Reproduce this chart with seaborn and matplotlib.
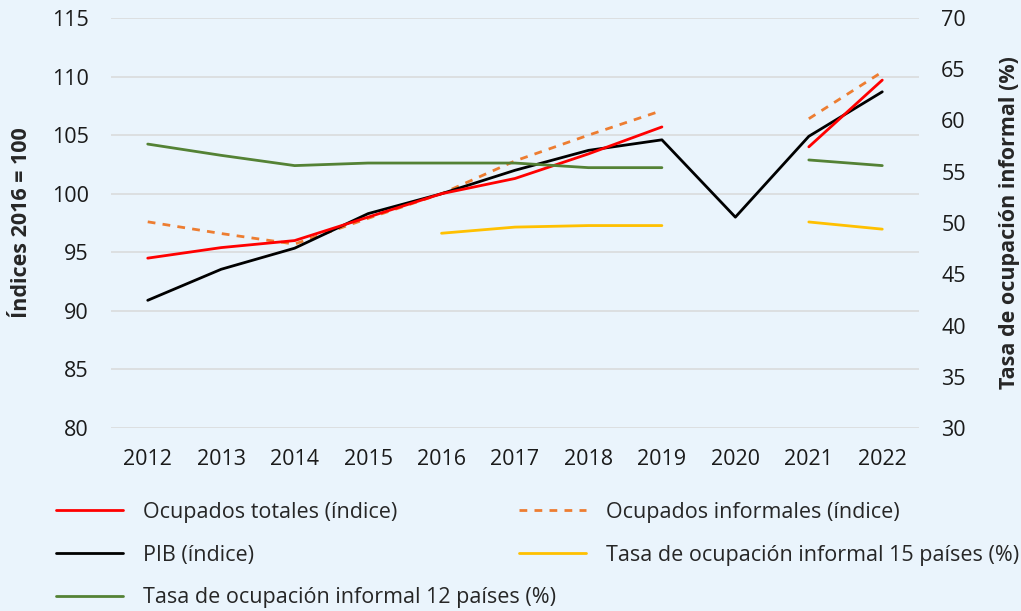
import numpy as np
import pandas as pd
import matplotlib
matplotlib.use("Agg")
import matplotlib.pyplot as plt
import seaborn as sns

years = [2012, 2013, 2014, 2015, 2016, 2017, 2018, 2019, 2020, 2021, 2022]
nan = np.nan
ocupados_totales = [94.5, 95.4, 96.0, 98.0, 100.0, 101.3, 103.4, 105.7, nan, 104.0, 109.7]
ocupados_informales = [97.6, 96.6, 95.7, 97.9, 100.0, 102.8, 105.0, 107.1, nan, 106.4, 110.4]
pib = [90.9, 93.55, 95.35, 98.3, 100.0, 102.0, 103.7, 104.6, 98.0, 104.9, 108.7]
tasa_15 = [nan, nan, nan, nan, 49.0, 49.6, 49.75, 49.75, nan, 50.1, 49.4]
tasa_12 = [57.7, 56.6, 55.6, 55.85, 55.85, 55.85, 55.4, 55.4, nan, 56.15, 55.6]

left_ticks = [80, 85, 90, 95, 100, 105, 110, 115]
right_ticks = [30, 35, 40, 45, 50, 55, 60, 65, 70]

labels = {
    "tot": "Ocupados totales (índice)",
    "inf": "Ocupados informales (índice)",
    "pib": "PIB (índice)",
    "t15": "Tasa de ocupación informal 15 países (%)",
    "t12": "Tasa de ocupación informal 12 países (%)",
}

sns.set_theme(style="white")
plt.rcParams["font.family"] = ["Open Sans", "DejaVu Sans"]

BG = "#EAF4FC"
FS = 15.5

fig = plt.figure(figsize=(10.21, 6.11), dpi=100, facecolor=BG)
ax = fig.add_axes([111 / 1021, 1 - 428 / 611, 808 / 1021, 410 / 611])
ax.set_facecolor(BG)
ax2 = ax.twinx()
ax2.patch.set_visible(False)


def segments(vals):
    segs, cur = [], []
    for y, v in zip(years, vals):
        if np.isnan(v):
            if cur:
                segs.append(cur)
            cur = []
        else:
            cur.append((y, v))
    if cur:
        segs.append(cur)
    return segs


def draw(axis, vals, color, lw=2.0, dashes=None, label=None):
    handle = None
    for seg in segments(vals):
        df = pd.DataFrame(seg, columns=["year", "value"])
        sns.lineplot(data=df, x="year", y="value", ax=axis, legend=False,
                     color=color, linewidth=lw)
        line = axis.get_lines()[-1]
        if dashes is not None:
            line.set_dashes(dashes)
        handle = line
    handle.set_label(label)
    return handle


h_t12 = draw(ax2, tasa_12, "#548235", label=labels["t12"])
h_t15 = draw(ax2, tasa_15, "#FFC000", label=labels["t15"])
h_inf = draw(ax, ocupados_informales, "#ED7D31", dashes=(2.8, 2.6), label=labels["inf"])
h_pib = draw(ax, pib, "black", label=labels["pib"])
h_tot = draw(ax, ocupados_totales, "#FF0000", label=labels["tot"])

ax.set_xlim(2011.5, 2022.5)
ax.set_ylim(80, 115)
ax2.set_ylim(30, 70)
ax.set_xticks(years)
ax.set_xticklabels([str(y) for y in years])
ax.set_yticks(left_ticks)
ax2.set_yticks(right_ticks)
ax.yaxis.grid(True, color="#D9D9D9", linewidth=1.1)
ax.xaxis.grid(False)
ax.set_axisbelow(True)
for a in (ax, ax2):
    for s in a.spines.values():
        s.set_visible(False)
    a.tick_params(axis="both", length=0, labelsize=FS, colors="#1a1a1a")
ax.tick_params(axis="y", pad=16)
ax2.tick_params(axis="y", pad=16)
ax.tick_params(axis="x", pad=15)

ax.set_xlabel("")
ax.set_ylabel("Índices 2016 = 100", fontsize=FS, fontweight="bold", va="center")
ax2.set_ylabel("Tasa de ocupación informal (%)", fontsize=FS, fontweight="bold",
               va="center", rotation=90)
ax.yaxis.set_label_coords((21 - 111) / 808, 0.5)
ax2.yaxis.set_label_coords((1010 - 111) / 808, 0.5)

leg_kw = dict(frameon=False, fontsize=FS, loc="upper left", borderpad=0,
              borderaxespad=0, handlelength=3.1, handletextpad=0.93,
              labelspacing=1.0)
leg1 = fig.legend(handles=[h_tot, h_pib, h_t12], bbox_to_anchor=(56 / 1021, 1 - 502 / 611), **leg_kw)
leg2 = fig.legend(handles=[h_inf, h_t15], bbox_to_anchor=(519 / 1021, 1 - 502 / 611), **leg_kw)

fig.savefig("out.png", dpi=100, facecolor=BG)
